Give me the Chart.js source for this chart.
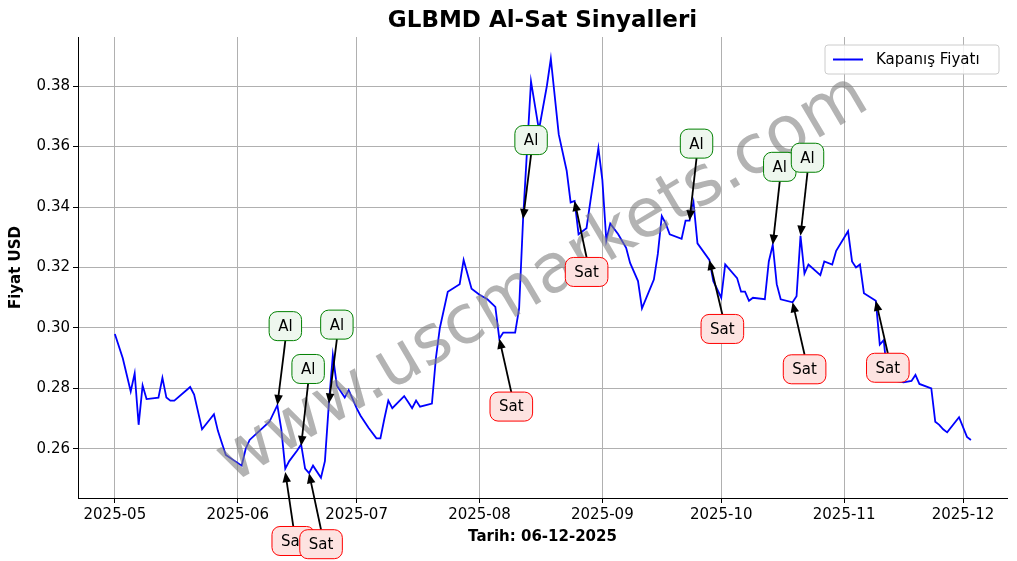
<!DOCTYPE html>
<html>
<head>
<meta charset="utf-8">
<script src="https://cdn.jsdelivr.net/npm/chart.js@4.4.1/dist/chart.umd.min.js"></script>
<style>
  html, body { margin: 0; padding: 0; background: #fff; }
  canvas { display: block; }
</style>
</head>
<body>
<canvas id="c" width="1017" height="561"></canvas>
<script>
// days since 2025-05-01 and closing price
const days = [0,2,4,5,6,7,8,11,12,13,14,15,19,20,22,25,26,27,28,32,33,34,39,41,42,43,44,46,47,48,49,50,52,53,54,55,56,58,59,61,
  62,64,66,67,68,69,70,73,74,75,76,77,80,81,82,84,87,88,90,92,94,96,97,98,101,102,103,105,107,109,110,112,114,115,116,117,119,120,122,123,
  124,125,127,129,130,132,133,136,137,138,139,140,143,144,145,146,147,150,151,153,154,157,158,159,160,161,164,165,166,167,168,171,172,173,174,175,
  178,179,181,182,185,186,187,188,189,192,193,194,195,199,201,202,203,206,207,208,209,210,213,215,216];
const prices = [0.298,0.290,0.279,0.285,0.268,0.281,0.2765,0.277,0.2835,0.277,0.276,0.276,0.2805,0.278,0.2665,0.2715,0.266,0.262,0.258,0.2545,0.260,0.263,0.269,0.2745,0.2665,0.2535,0.256,0.2595,0.2615,0.2535,0.252,0.2545,0.2505,0.256,0.275,0.291,0.281,0.277,0.2795,0.2735,
  0.271,0.267,0.2635,0.2635,0.270,0.276,0.2735,0.2775,0.2755,0.2735,0.276,0.274,0.275,0.290,0.300,0.312,0.3145,0.3225,0.313,0.311,0.3095,0.307,0.2965,0.2985,0.2985,0.3065,0.336,0.3815,0.3655,0.380,
  0.389,0.364,0.352,0.3415,0.342,0.331,0.333,0.342,0.3595,0.349,0.329,0.3345,0.331,0.3265,0.3215,0.3155,0.3065,0.316,0.3245,0.337,0.3345,0.331,0.3295,0.3355,0.3355,0.3415,0.328,0.3225,0.3155,0.310,
  0.321,0.3165,0.312,0.312,0.309,0.310,0.3095,0.322,0.3275,0.3145,0.3095,0.3085,0.3105,0.3305,0.318,0.321,0.3175,0.322,0.321,0.3255,0.332,0.322,0.320,0.321,0.3115,0.309,0.2945,0.296,0.283,0.282,
  0.2825,0.2845,0.2815,0.280,0.269,0.268,0.2665,0.2655,0.2705,0.264,0.263];

const monthTicks = [0,31,61,92,123,153,184,214];
const monthLabels = ['2025-05','2025-06','2025-07','2025-08','2025-09','2025-10','2025-11','2025-12'];
const yTicks = [0.26,0.28,0.30,0.32,0.34,0.36,0.38];

// signals: day, price, type
const sigDays =   [41,47,54,103,145,166,173, 43,49,97,116,150,171,192];
const sigPrices = [0.2745,0.261,0.275,0.336,0.3355,0.3275,0.3305, 0.2524,0.252,0.2965,0.342,0.3225,0.3085,0.309];
const sigTypes =  ['Al','Al','Al','Al','Al','Al','Al','Sat','Sat','Sat','Sat','Sat','Sat','Sat'];
// label offset in pixels from the point (layout only)
const sigDx = [8,7,8,8,7,7,7, 8,12,12,12,13,12,12];
const sigDy = [-79,-77,-79,-79,-77,-78,-78, 69,71,68,71,69,67,67];

const FONT = 'DejaVu Sans';

const extras = {
  id: 'extras',
  afterDatasetsDraw(chart) {
    const ctx = chart.ctx, xs = chart.scales.x, ys = chart.scales.y, a = chart.chartArea;
    ctx.save();
    // watermark
    ctx.save();
    ctx.translate(543, 280);
    ctx.rotate(-30.5 * Math.PI / 180);
    ctx.font = '68px ' + FONT;
    ctx.fillStyle = 'rgba(128,128,128,0.6)';
    ctx.textAlign = 'center'; ctx.textBaseline = 'middle';
    ctx.fillText('www.uscmarkets.com', 0, 0);
    ctx.restore();

    // signal annotations
    ctx.font = '15px ' + FONT;
    sigDays.forEach((d, i) => {
      const px = xs.getPixelForValue(d), py = ys.getPixelForValue(sigPrices[i]);
      const lx = px + sigDx[i], ly = py + sigDy[i];
      const isAl = sigTypes[i] === 'Al';
      const w = ctx.measureText(sigTypes[i]).width + 18, h = 29;
      const sy = isAl ? ly + h / 2 : ly - h / 2;
      const ang = Math.atan2(py - sy, px - lx);
      ctx.strokeStyle = '#000'; ctx.fillStyle = '#000'; ctx.lineWidth = 1.8;
      ctx.beginPath(); ctx.moveTo(lx, sy);
      ctx.lineTo(px - Math.cos(ang) * 6, py - Math.sin(ang) * 6); ctx.stroke();
      ctx.beginPath(); ctx.moveTo(px, py);
      ctx.lineTo(px - Math.cos(ang - 0.4) * 11, py - Math.sin(ang - 0.4) * 11);
      ctx.lineTo(px - Math.cos(ang + 0.4) * 11, py - Math.sin(ang + 0.4) * 11);
      ctx.closePath(); ctx.fill();
      ctx.beginPath();
      ctx.roundRect(lx - w / 2, ly - h / 2, w, h, 8);
      ctx.fillStyle = isAl ? '#eef7ee' : '#fde3e1';
      ctx.fill();
      ctx.lineWidth = 1;
      ctx.strokeStyle = isAl ? 'green' : 'red';
      ctx.stroke();
      ctx.fillStyle = '#000'; ctx.textAlign = 'center'; ctx.textBaseline = 'middle';
      ctx.fillText(sigTypes[i], lx, ly + 1);
    });

    // title and axis labels
    ctx.fillStyle = '#000';
    ctx.textAlign = 'center'; ctx.textBaseline = 'middle';
    ctx.font = 'bold 23px ' + FONT;
    ctx.fillText('GLBMD Al-Sat Sinyalleri', (a.left + a.right) / 2, 21);
    ctx.font = 'bold 15px ' + FONT;
    ctx.fillText('Tarih: 06-12-2025', (a.left + a.right) / 2, 537);
    ctx.save();
    ctx.translate(16, (a.top + a.bottom) / 2);
    ctx.rotate(-Math.PI / 2);
    ctx.fillText('Fiyat USD', 0, 0);
    ctx.restore();

    // legend
    const bx = 825, by = 45, bw = 174, bh = 29;
    ctx.beginPath(); ctx.roundRect(bx, by, bw, bh, 3);
    ctx.fillStyle = 'rgba(255,255,255,0.85)'; ctx.fill();
    ctx.strokeStyle = '#ccc'; ctx.lineWidth = 1; ctx.stroke();
    ctx.beginPath(); ctx.moveTo(bx + 8, by + bh / 2); ctx.lineTo(bx + 38, by + bh / 2);
    ctx.strokeStyle = 'blue'; ctx.lineWidth = 2; ctx.stroke();
    ctx.fillStyle = '#000'; ctx.textAlign = 'left'; ctx.font = '15px ' + FONT;
    ctx.fillText('Kapanış Fiyatı', bx + 51, by + bh / 2 + 1);
    ctx.restore();
  }
};

new Chart(document.getElementById('c'), {
  type: 'line',
  data: {
    datasets: [{
      label: 'Kapanış Fiyatı',
      data: days.map((d, i) => ({ x: d, y: prices[i] })),
      borderColor: 'blue',
      borderWidth: 1.8,
      pointRadius: 0,
      tension: 0,
      fill: false
    }]
  },
  options: {
    responsive: false,
    devicePixelRatio: 1,
    animation: false,
    layout: { padding: { top: 37, right: 10, left: 0, bottom: 0 } },
    plugins: { legend: { display: false }, tooltip: { enabled: false } },
    scales: {
      x: {
        type: 'linear',
        min: -9.3, max: 225.1,
        afterBuildTicks: s => { s.ticks = monthTicks.map(v => ({ value: v })); },
        afterFit: s => { s.height = 63; },
        ticks: {
          color: '#000', font: { family: FONT, size: 15 }, maxRotation: 0, autoSkip: false,
          callback: v => monthLabels[monthTicks.indexOf(v)]
        },
        grid: { color: '#b0b0b0', tickColor: '#000', tickLength: 5 },
        border: { color: '#000', width: 1 }
      },
      y: {
        min: 0.2438, max: 0.3962,
        afterBuildTicks: s => { s.ticks = yTicks.map(v => ({ value: v })); },
        afterFit: s => { s.width = 78; },
        ticks: { color: '#000', font: { family: FONT, size: 15 }, callback: v => v.toFixed(2) },
        grid: { color: '#b0b0b0', tickColor: '#000', tickLength: 5 },
        border: { color: '#000', width: 1 }
      }
    }
  },
  plugins: [extras]
});
</script>
</body>
</html>
